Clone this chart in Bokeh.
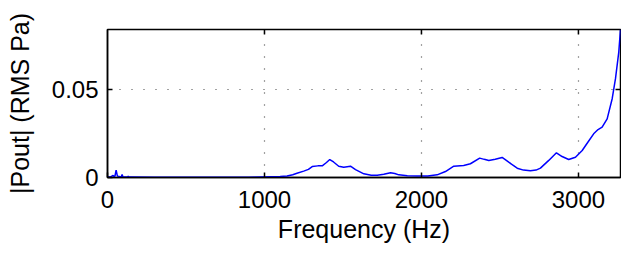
import math
from bokeh.plotting import figure
from bokeh.models import Range1d, FixedTicker
from bokeh.embed import file_html
from bokeh.resources import INLINE

# Frequency (Hz) and |Pout| (RMS Pa)
freq = [0, 20, 36, 42, 48, 55, 62, 70, 80, 88, 93, 98, 105, 120, 128, 132, 136, 145,
        300, 600, 900, 1038, 1100, 1144, 1180, 1207, 1250, 1280, 1304, 1340, 1368, 1395,
        1416, 1440, 1473, 1505, 1548, 1580, 1633, 1680, 1718, 1760, 1803, 1830, 1856,
        1910, 1973, 2040, 2100, 2153, 2206, 2269, 2312, 2371, 2400, 2429, 2470, 2514,
        2556, 2610, 2650, 2694, 2730, 2758, 2811, 2860, 2896, 2938, 2981, 3024, 3060,
        3097, 3125, 3151, 3183, 3215, 3236, 3257, 3268]
pout = [0.0003, 0.0003, 0.0012, 0.0004, 0.0010, 0.0042, 0.0012, 0.0004, 0.0005, 0.0004,
        0.0017, 0.0004, 0.0003, 0.0003, 0.0003, 0.0008, 0.0003, 0.0003,
        0.0002, 0.0002, 0.0002, 0.0004, 0.0005, 0.0008, 0.0016, 0.0024, 0.0036, 0.0046,
        0.0062, 0.0066, 0.0066, 0.0085, 0.0102, 0.0088, 0.0064, 0.0058, 0.0064, 0.0045,
        0.0021, 0.0013, 0.0013, 0.0018, 0.0027, 0.0023, 0.0015, 0.0010, 0.0008, 0.0009,
        0.0015, 0.0034, 0.0064, 0.0068, 0.0078, 0.0110, 0.0103, 0.0097, 0.0104, 0.0114,
        0.0087, 0.0053, 0.0042, 0.0038, 0.0042, 0.0053, 0.0097, 0.0140, 0.0119, 0.0102,
        0.0115, 0.0153, 0.0200, 0.0248, 0.0272, 0.0286, 0.0333, 0.0447, 0.0561, 0.0712,
        0.0840]

x_ticks = [0, 1000, 2000, 3000]
y_ticks = [0, 0.05]
y_tick_labels = {0: "0", 0.05: "0.05"}
x_max = 3268
y_max = 0.084

FONT = "Liberation Sans"

p = figure(width=621, height=253, output_backend="svg", toolbar_location=None,
           x_range=Range1d(0, x_max), y_range=Range1d(0, y_max),
           min_border_left=107, min_border_right=1, min_border_top=29, min_border_bottom=76)
p.title.visible = False
p.background_fill_color = "white"
p.border_fill_color = "white"
p.outline_line_color = "black"
p.outline_line_width = 1.5

p.line(freq, pout, line_color="#0000ff", line_width=1.5)

# grids
for g in (p.xgrid, p.ygrid):
    g.grid_line_color = "#444444"
    g.grid_line_dash = "1 11"
    g.grid_line_width = 1.2
p.xgrid.ticker = FixedTicker(ticks=x_ticks[1:])
p.ygrid.ticker = FixedTicker(ticks=y_ticks[1:])

for ax in (p.xaxis[0], p.yaxis[0]):
    ax.axis_line_color = "black"
    ax.axis_line_width = 1.5
    ax.major_tick_in = 5
    ax.major_tick_out = 0
    ax.major_tick_line_color = "black"
    ax.major_tick_line_width = 1.5
    ax.minor_tick_line_color = None
    ax.major_label_text_font = FONT
    ax.major_label_text_font_size = "24px"
    ax.major_label_text_color = "black"
    ax.axis_label_text_font = FONT
    ax.axis_label_text_font_size = "25px"
    ax.axis_label_text_font_style = "normal"
    ax.axis_label_text_color = "black"

p.xaxis[0].ticker = FixedTicker(ticks=x_ticks)
p.yaxis[0].ticker = FixedTicker(ticks=y_ticks)
p.yaxis[0].major_label_overrides = y_tick_labels
p.xaxis[0].axis_label = "Frequency (Hz)"
p.yaxis[0].axis_label = "|Pout| (RMS Pa)"
p.xaxis[0].major_label_standoff = 13
p.xaxis[0].axis_label_standoff = 4
p.yaxis[0].major_label_standoff = 9
p.yaxis[0].axis_label_standoff = 15

# box ticks on the top and right edges (markers clipped by the frame)
p.scatter(x_ticks[1:], [y_max] * len(x_ticks[1:]), marker="dash", size=10, angle=math.pi / 2,
          line_color="black", line_width=1.5)
p.scatter([x_max] * len(y_ticks[1:]), y_ticks[1:], marker="dash", size=10,
          line_color="black", line_width=1.5)

open("out.html", "w").write(file_html(p, INLINE))
